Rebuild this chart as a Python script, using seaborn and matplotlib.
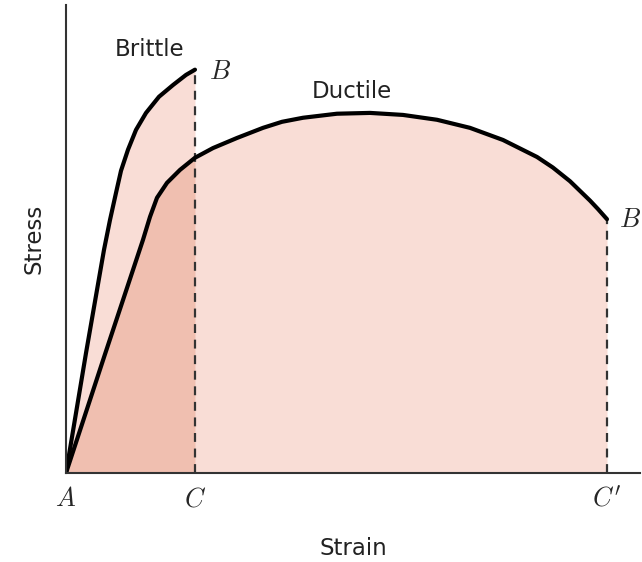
import matplotlib
matplotlib.use("Agg")
import matplotlib.pyplot as plt
import seaborn as sns
import pandas as pd

# stress-strain curves (strain: C' = 10, stress: brittle peak ~ 100)
brittle_strain = [0, 0.370, 0.702, 0.813, 0.924, 1.017, 1.146, 1.294, 1.479, 1.719, 1.978, 2.218, 2.384]
brittle_stress = [0, 29.7, 55.2, 62.6, 69.3, 74.8, 80.0, 84.9, 89.1, 93.1, 96.0, 98.5, 99.8]

ductile_strain = [0, 0.721, 1.423, 1.553, 1.682, 1.867, 2.107, 2.384, 2.717, 3.161, 3.641, 3.993,
                  4.381, 5.009, 5.619, 6.229, 6.858, 7.468, 8.078, 8.706, 8.998, 9.316, 9.686,
                  9.834, 10.0]
ductile_stress = [0, 29.4, 57.7, 63.4, 68.1, 71.8, 75.0, 78.0, 80.4, 82.9, 85.4, 86.9,
                  87.9, 88.9, 89.1, 88.6, 87.4, 85.4, 82.4, 78.2, 75.6, 72.2, 67.4,
                  65.3, 62.8]

strain_C = brittle_strain[-1]
strain_C2 = ductile_strain[-1]

brittle = pd.DataFrame({"strain": brittle_strain, "stress": brittle_stress})
ductile = pd.DataFrame({"strain": ductile_strain, "stress": ductile_stress})
overlap = ductile[ductile["strain"] <= strain_C]

sns.set_style("white")
plt.rcParams["font.family"] = ["DejaVu Sans"]
plt.rcParams["mathtext.fontset"] = "cm"

fig = plt.figure(figsize=(6.42, 5.62), dpi=100)
ax = fig.add_axes([66 / 642, 89 / 562, 574 / 642, 468 / 562])

light = "#f9ddd6"
dark = "#f0bfb0"
ax.fill_between(brittle["strain"], brittle["stress"], color=light, lw=0)
ax.fill_between(ductile["strain"], ductile["stress"], color=light, lw=0)
ax.fill_between(overlap["strain"], overlap["stress"], color=dark, lw=0)

ax.plot([strain_C, strain_C], [0, brittle_stress[-1]], ls=(0, (4, 3)), color="#333333", lw=1.6)
ax.plot([strain_C2, strain_C2], [0, ductile_stress[-1]], ls=(0, (4, 3)), color="#333333", lw=1.6)

line_kw = dict(sort=False, color="black", lw=3.0, solid_joinstyle="round", solid_capstyle="round", ax=ax)
sns.lineplot(data=brittle, x="strain", y="stress", **line_kw)
sns.lineplot(data=ductile, x="strain", y="stress", **line_kw)

ax.set_xlim(0, 10.61)
ax.set_ylim(0, 115.8)
ax.set_xticks([])
ax.set_yticks([])
for side in ["top", "right"]:
    ax.spines[side].set_visible(False)
for side in ["left", "bottom"]:
    ax.spines[side].set_color("#333333")
    ax.spines[side].set_linewidth(1.5)

ax.set_xlabel("Strain", fontsize=16.5, color="#222222", labelpad=46)
ax.set_ylabel("Stress", fontsize=16.5, color="#222222", labelpad=15)

ax.text(1.553, 104.9, "Brittle", fontsize=16.5, color="#222222", ha="center", va="center")
ax.text(5.29, 94.3, "Ductile", fontsize=16.5, color="#222222", ha="center", va="center")
ax.text(2.85, 99.3, "$B$", fontsize=19, ha="center", va="center")
ax.text(10.43, 62.6, "$B$", fontsize=19, ha="center", va="center")
ax.text(0, -6.5, "$A$", fontsize=19, ha="center", va="center", clip_on=False)
ax.text(strain_C, -6.5, "$C$", fontsize=19, ha="center", va="center", clip_on=False)
ax.text(strain_C2, -6.5, "$C'$", fontsize=19, ha="center", va="center", clip_on=False)

fig.savefig("out.png", dpi=100)
